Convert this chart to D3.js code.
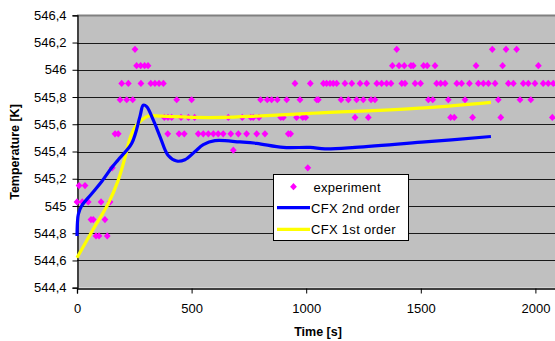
<!DOCTYPE html>
<html><head><meta charset="utf-8">
<script src="https://cdn.jsdelivr.net/npm/d3@7"></script>
<style>html,body{margin:0;padding:0;background:#fff;}svg{display:block;font-family:"Liberation Sans",Arial,sans-serif;}</style>
</head><body>
<svg id="c" width="555" height="341"></svg>
<script>
// ---- data ----
const yTicks = [544.4,544.6,544.8,545.0,545.2,545.4,545.6,545.8,546.0,546.2,546.4];
const xTicks = [0,500,1000,1500,2000];
const seriesNames = ["experiment","CFX 2nd order","CFX 1st order"];

const expTime = [
  253,1395,1812,1872,1918,
  260,278,295,310,1376,1405,1428,1457,1467,1512,1528,1562,1741,1857,2013,
  195,224,279,322,340,358,377,951,1018,1075,1089,1104,1118,1133,1169,1199,1235,1264,1308,1329,1351,1370,1417,1431,1475,1499,1569,1587,1606,1657,1678,1712,1751,1773,1795,1824,1882,1904,1947,1969,1998,2034,2056,2078,
  188,217,243,435,500,801,830,849,874,915,973,1046,1053,1152,1184,1220,1249,1283,1300,1533,1552,1620,1693,1838,1933,1980,
  381,397,413,454,486,513,660,721,758,769,794,889,900,958,985,998,1213,1271,1630,1646,1726,1849,2074,
  166,180,396,445,468,529,551,573,595,616,638,671,704,740,784,820,922,932,
  682,
  154,1007,
  9,35,
  0,23,49,105,144,
  61,71,122,
  83,96,132
];
const expTemp = [
  546.15,546.15,546.15,546.15,546.15,
  546.03,546.03,546.03,546.03,546.03,546.03,546.03,546.03,546.03,546.03,546.03,546.03,546.03,546.03,546.03,
  545.90,545.90,545.90,545.90,545.90,545.90,545.90,545.90,545.90,545.90,545.90,545.90,545.90,545.90,545.90,545.90,545.90,545.90,545.90,545.90,545.90,545.90,545.90,545.90,545.90,545.90,545.90,545.90,545.90,545.90,545.90,545.90,545.90,545.90,545.90,545.90,545.90,545.90,545.90,545.90,545.90,545.90,545.90,545.90,
  545.78,545.78,545.78,545.78,545.78,545.78,545.78,545.78,545.78,545.78,545.78,545.78,545.78,545.78,545.78,545.78,545.78,545.78,545.78,545.78,545.78,545.78,545.78,545.78,545.78,545.78,
  545.65,545.65,545.65,545.65,545.65,545.65,545.65,545.65,545.65,545.65,545.65,545.65,545.65,545.65,545.65,545.65,545.65,545.65,545.65,545.65,545.65,545.65,545.65,
  545.53,545.53,545.53,545.53,545.53,545.53,545.53,545.53,545.53,545.53,545.53,545.53,545.53,545.53,545.53,545.53,545.53,545.53,
  545.41,
  545.28,545.28,
  545.15,545.15,
  545.03,545.03,545.03,545.03,545.03,
  544.90,544.90,544.90,
  544.78,544.78,544.78
];

const cfx2Time = [0,2,6,20,64,108,151,180,239,275,289,304,333,362,398,435,471,515,551,602,711,784,900,1017,1082,1213,1518,1806];
const cfx2Temp = [544.78,544.88,544.94,545.0,545.09,545.18,545.28,545.34,545.46,545.66,545.74,545.73,545.63,545.51,545.37,545.33,545.34,545.40,545.45,545.48,545.47,545.46,545.43,545.43,545.42,545.43,545.47,545.51];

const cfx1Time = [0,64,137,180,210,230,250,275,311,369,515,638,784,1017,1518,1806];
const cfx1Temp = [544.62,544.81,545.02,545.19,545.36,545.49,545.57,545.62,545.66,545.66,545.65,545.65,545.66,545.68,545.72,545.76];

// ---- chart ----
const svg = d3.select("#c");
const x = d3.scaleLinear().domain([0,2500]).range([77,650]);
const y = d3.scaleLinear().domain([544.4,546.4]).range([287.7,15.3]);
const fmt = v => String(Math.round(v*10)/10).replace(".", ",");

// plot background
svg.append("rect").attr("x",x(0)).attr("y",y(546.4)).attr("width",x(2500)-x(0)).attr("height",y(544.4)-y(546.4)).attr("fill","#C0C0C0");

// gridlines
svg.append("g").selectAll("line").data(yTicks.slice(1,-1)).join("line")
  .attr("x1",x(0)).attr("x2",x(2500)).attr("y1",d=>Math.round(y(d))+0.5).attr("y2",d=>Math.round(y(d))+0.5)
  .attr("stroke","#1a1a1a").attr("stroke-width",1);
// top border
svg.append("line").attr("x1",x(0)).attr("x2",x(2500)).attr("y1",Math.round(y(546.4))+0.5).attr("y2",Math.round(y(546.4))+0.5)
  .attr("stroke","#808080").attr("stroke-width",2);

// axes
const yAxis = svg.append("g").attr("transform",`translate(${Math.round(x(0))+0.5},0)`)
  .call(d3.axisLeft(y).tickValues(yTicks).tickFormat(fmt).tickSize(5).tickPadding(6));
const xAxis = svg.append("g").attr("transform",`translate(0,${Math.round(y(544.4))+0.5})`)
  .call(d3.axisBottom(x).tickValues(xTicks).tickFormat(d3.format("d")).tickSize(5).tickPadding(10));
[yAxis,xAxis].forEach(g=>{
  g.select(".domain").attr("stroke","#000").attr("stroke-width",1.3);
  g.selectAll(".tick line").attr("stroke","#000");
  g.selectAll("text").attr("fill","#000").style("font-size","13px").style("font-family","'Liberation Sans',Arial,sans-serif");
});

// experiment diamonds
const diamond = "M0,-3.6L3.4,0L0,3.6L-3.4,0Z";
svg.append("g").selectAll("path").data(expTime.map((t,i)=>[t,expTemp[i]])).join("path")
  .attr("d",diamond).attr("transform",d=>`translate(${x(d[0])},${y(d[1])})`).attr("fill","#FF00FF");

// lines
const line = d3.line().x(d=>x(d[0])).y(d=>y(d[1])).curve(d3.curveCatmullRom.alpha(0.5));
svg.append("path").datum(cfx1Time.map((t,i)=>[t,cfx1Temp[i]])).attr("d",line)
  .attr("fill","none").attr("stroke","#FFFF00").attr("stroke-width",3.2);
svg.append("path").datum(cfx2Time.map((t,i)=>[t,cfx2Temp[i]])).attr("d",line)
  .attr("fill","none").attr("stroke","#0000FF").attr("stroke-width",3.2);

// titles
svg.append("text").attr("x",318).attr("y",336).attr("text-anchor","middle")
  .style("font-size","12.5px").style("font-weight","bold").text("Time [s]");
svg.append("text").attr("transform","translate(19,152) rotate(-90)").attr("text-anchor","middle")
  .style("font-size","12.5px").style("font-weight","bold").text("Temperature [K]");

// legend
const lg = svg.append("g");
lg.append("rect").attr("x",273.5).attr("y",174.5).attr("width",135).attr("height",66)
  .attr("fill","#fff").attr("stroke","#000").attr("stroke-width",1);
lg.append("path").attr("d",diamond).attr("transform","translate(293.5,186.7)").attr("fill","#FF00FF");
lg.append("line").attr("x1",277).attr("x2",310).attr("y1",207.7).attr("y2",207.7).attr("stroke","#0000FF").attr("stroke-width",3.2);
lg.append("line").attr("x1",277).attr("x2",310).attr("y1",229.3).attr("y2",229.3).attr("stroke","#FFFF00").attr("stroke-width",3.2);
const ly = [191.5,212.5,234];
seriesNames.forEach((n,i)=>{
  lg.append("text").attr("x", i===0?313.5:311).attr("y",ly[i]).style("font-size","13px").style("letter-spacing","0.3px").text(n);
});
</script>
</body></html>
